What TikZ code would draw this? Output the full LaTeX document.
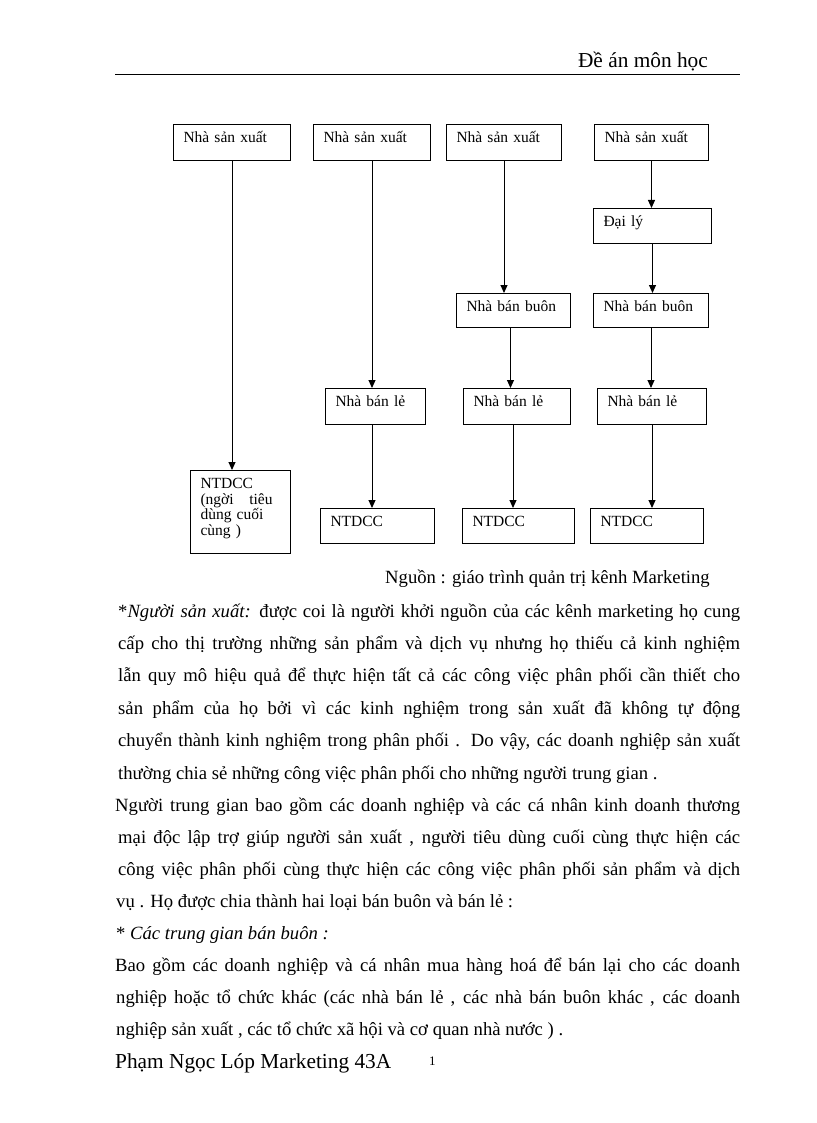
\documentclass[tikz,border=0pt]{standalone}
\usepackage{fontspec}
\setmainfont{Liberation Serif}
\usetikzlibrary{arrows.meta}
\newcommand\bodyfont{\fontsize{18.67pt}{22pt}\selectfont}
\newcommand\boxfont{\fontsize{15.5pt}{15.5pt}\selectfont}
\newcommand\headfont{\fontsize{21.33pt}{24pt}\selectfont}
\newcommand\jline[2][622pt]{\makebox[#1][s]{#2}}
\begin{document}
\begin{tikzpicture}[x=1pt,y=-1pt,
  box/.style={draw, line width=1pt, anchor=north west, inner xsep=10pt, inner ysep=0pt,
              align=left, font=\boxfont, text height=18pt},
  arr/.style={line width=1pt, -{Triangle[length=8pt,width=7pt]}},
  body/.style={anchor=base west, inner sep=0pt, font=\bodyfont},
  rule/.style={line width=1pt}
]
\useasboundingbox (0,0) rectangle (816,1123);
\fill[white] (0,0) rectangle (816,1123);

% header
\node[anchor=base east, inner sep=0pt, font=\headfont] (hd) at (708,68) {Đề án môn học};
\coordinate (hl) at (115,74.5);
\coordinate (hr) at (740,74.5);
\draw[rule] (hl) -- (hr);

% boxes
\node[box, text width=97pt, text depth=18pt] (p1) at (173,124) {Nhà sản xuất};
\node[box, text width=97pt, text depth=18pt] (p2) at (313,124) {Nhà sản xuất};
\node[box, text width=95pt, text depth=18pt] (p3) at (446,124) {Nhà sản xuất};
\node[box, text width=94pt, text depth=18pt] (p4) at (594,124) {Nhà sản xuất};
\node[box, text width=98pt, text depth=17pt] (d4) at (593,208) {Đại lý};
\node[box, text width=94pt, text depth=16pt] (w3) at (456,293) {Nhà bán buôn};
\node[box, text width=95pt, text depth=16pt] (w4) at (593,293) {Nhà bán buôn};
\node[box, text width=80pt, text depth=18pt] (r2) at (325,388) {Nhà bán lẻ};
\node[box, text width=87pt, text depth=18pt] (r3) at (463,388) {Nhà bán lẻ};
\node[box, text width=89pt, text depth=18pt] (r4) at (597,388) {Nhà bán lẻ};
\node[box, text width=80pt, text depth=65pt] (t1) at (190,470)
  {NTDCC\\\makebox[72pt][l]{(ngời\hfill tiêu}\\dùng cuối\\cùng )};
\node[box, text width=94pt, text depth=17pt] (t2) at (320,508) {NTDCC};
\node[box, text width=92pt, text depth=17pt] (t3) at (462,508) {NTDCC};
\node[box, text width=93pt, text depth=17pt] (t4) at (590,508) {NTDCC};

% connectors
\draw[arr] (p1.south) -- (p1.south |- t1.north);
\draw[arr] (p2.south) -- (p2.south |- r2.north);
\draw[arr] (r2.south -| p2.south) -- (p2.south |- t2.north);
\draw[arr] (p3.south) -- (p3.south |- w3.north);
\draw[arr] ([xshift=-3pt]w3.south) -- ([xshift=-3pt]w3.south |- r3.north);
\draw[arr] ([xshift=-4pt]r3.south) -- ([xshift=-4pt]r3.south |- t3.north);
\draw[arr] (p4.south) -- (p4.south |- d4.north);
\draw[arr] (d4.south) -- (d4.south |- w4.north);
\draw[arr] (w4.south) -- (w4.south |- r4.north);
\draw[arr] (r4.south) -- (r4.south |- t4.north);

% caption
\node[body] (src) at (385,583) {Nguồn : giáo trình quản trị kênh Marketing};

% body text
\node[body] (l1) at (118,617) {\jline{*\textit{Người sản xuất:} được coi là người khởi nguồn của các kênh marketing họ cung}};
\node[body] (l2) at (118,649) {\jline{cấp cho thị trường những sản phẩm và dịch vụ nhưng họ thiếu cả kinh nghiệm}};
\node[body] (l3) at (118,681) {\jline{lẫn quy mô hiệu quả để thực hiện tất cả các công việc phân phối cần thiết cho}};
\node[body] (l4) at (118,714) {\jline{sản phẩm của họ bởi vì các kinh nghiệm trong sản xuất đã không tự động}};
\node[body] (l5) at (118,746) {\jline{chuyển thành kinh nghiệm trong phân phối . Do vậy, các doanh nghiệp sản xuất}};
\node[body] (l6) at (118,779) {thường chia sẻ những công việc phân phối cho những người trung gian .};
\node[body] (l7) at (115,811) {\jline[625pt]{Người trung gian bao gồm các doanh nghiệp và các cá nhân kinh doanh thương}};
\node[body] (l8) at (118,843) {\jline{mại độc lập trợ giúp người sản xuất , người tiêu dùng cuối cùng thực hiện các}};
\node[body] (l9) at (118,875) {\jline{công việc phân phối cùng thực hiện các công việc phân phối sản phẩm và dịch}};
\node[body] (l10) at (116,907) {vụ . Họ được chia thành hai loại bán buôn và bán lẻ :};
\node[body] (l11) at (116,939) {* \textit{Các trung gian bán buôn :}};
\node[body] (l12) at (115,971) {\jline[625pt]{Bao gồm các doanh nghiệp và cá nhân mua hàng hoá để bán lại cho các doanh}};
\node[body] (l13) at (116,1003) {\jline[624pt]{nghiệp hoặc tổ chức khác (các nhà bán lẻ , các nhà bán buôn khác , các doanh}};
\node[body] (l14) at (116,1035) {nghiệp sản xuất , các tổ chức xã hội và cơ quan nhà nước ) .};

% footer
\node[anchor=base west, inner sep=0pt, font=\headfont] (ft) at (115,1068) {Phạm Ngọc Lóp Marketing 43A};
\node[anchor=base west, inner sep=0pt, font=\fontsize{13pt}{14pt}\selectfont] (pg) at (429,1065) {1};
\end{tikzpicture}
\end{document}
